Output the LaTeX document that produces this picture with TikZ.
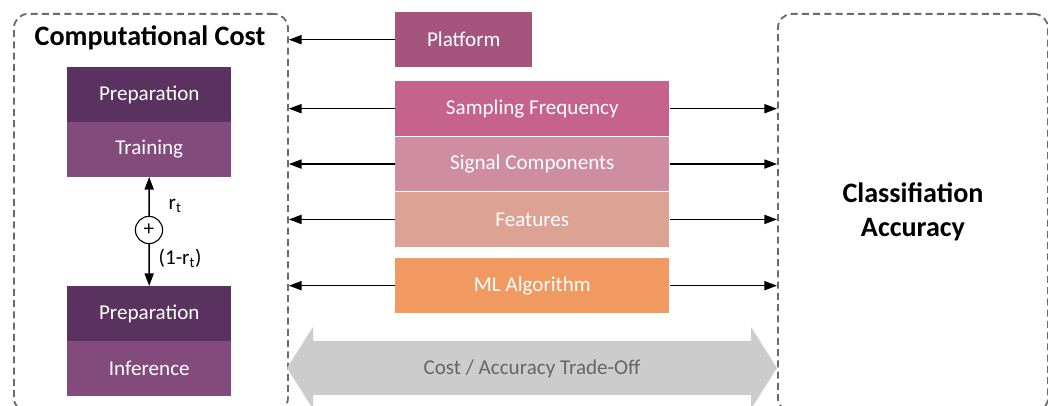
\documentclass[tikz,border=0pt]{standalone}
\usepackage{fontspec}
\setmainfont{Carlito}
\usetikzlibrary{positioning, arrows.meta, calc}
\definecolor{prep}{RGB}{89, 50, 96}
\definecolor{train}{RGB}{131, 75, 123}
\definecolor{platform}{RGB}{165, 84, 126}
\definecolor{sampling}{RGB}{197, 99, 140}
\definecolor{signal}{RGB}{206, 141, 160}
\definecolor{features}{RGB}{220, 162, 147}
\definecolor{mlalg}{RGB}{240, 154, 98}

\begin{document}
\begin{tikzpicture}[
    x=0.025cm, y=-0.025cm,
    stage/.style={
        rectangle, fill=#1, text=white,
        minimum width=4.1cm, minimum height=1.36cm,
        inner sep=0pt, font=\fontsize{15}{18}\selectfont,
    },
    factor/.style={
        rectangle, fill=#1, text=white,
        minimum width=6.85cm, minimum height=1.37cm,
        inner sep=0pt, font=\fontsize{15}{18}\selectfont,
    },
    group/.style={
        rectangle, rounded corners=10pt, draw=black!58,
        line width=1.3pt, dash pattern=on 5pt off 3pt,
        minimum height=9.95cm, anchor=north west,
    },
    heading/.style={font=\fontsize{20}{24}\selectfont\bfseries, align=center},
    link/.style={-{Triangle[length=9pt, width=6.5pt]}, line width=1pt},
    label/.style={font=\fontsize{15}{18}\selectfont, anchor=west, inner sep=1pt},
]
\useasboundingbox (0,0) rectangle (1048,406);

% --- Dashed groups ---
\node[group, minimum width=6.85cm] (costbox) at (13,13) {};
\node[group, minimum width=6.75cm] (accbox)  at (777,13) {};
\node[heading] (costtitle) at (150,38) {Computational Cost};
\node[heading] (acctitle)  at (913,212) {Classifiation\\Accuracy};

% --- Training / inference stages ---
\node[stage=prep, anchor=north west] (prepA) at (67,67) {Preparation};
\node[stage=train, below=0pt of prepA] (train) {Training};
\node[stage=prep, anchor=north west] (prepB) at (67,286) {Preparation};
\node[stage=train, below=0pt of prepB] (infer) {Inference};

% --- Split between training and inference ---
\node[circle, draw, line width=0.8pt, minimum size=0.68cm, inner sep=0pt,
      font=\fontsize{15}{18}\selectfont] (plus) at (149,230) {+};
\draw[link] (plus) -- (train);
\draw[link] (plus) -- (prepB);
\node[label] (rt)    at (167,206) {r\textsubscript{t}};
\node[label] (rtinv) at (157,258) {(1-r\textsubscript{t})};

% --- Influencing factors ---
\node[factor=platform, minimum width=3.425cm, anchor=north west] (platform) at (395,12) {Platform};
\node[factor=sampling, anchor=north west] (sampling) at (395,81) {Sampling Frequency};
\node[factor=signal, below=0pt of sampling] (signal) {Signal Components};
\node[factor=features, below=0pt of signal] (features) {Features};
\node[factor=mlalg, anchor=north west] (mlalg) at (395,258) {ML Algorithm};

\draw[link] (platform.west) -- (platform.west -| costbox.east);
\foreach \f in {sampling, signal, features, mlalg} {
    \draw[link] (\f.west) -- (\f.west -| costbox.east);
    \draw[link] (\f.east) -- (\f.east -| accbox.west);
}

% --- Trade-off arrow ---
\fill[black!20] (287,368) -- (313,327) -- (313,341) -- (751,341) -- (751,327)
    -- (777,368) -- (751,409) -- (751,395) -- (313,395) -- (313,409) -- cycle;
\node[font=\fontsize{15}{18}\selectfont, text=black!60] (tradeoff) at (532,369)
    {Cost / Accuracy Trade-Off};

\end{tikzpicture}
\end{document}
